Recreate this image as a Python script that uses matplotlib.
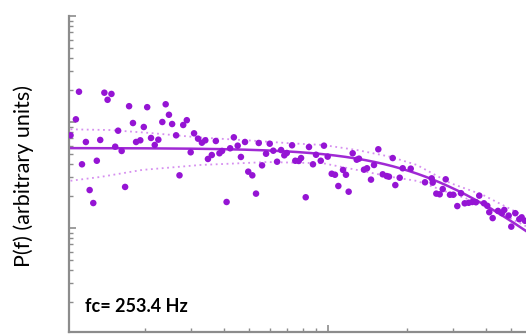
import matplotlib
matplotlib.use("Agg")
import matplotlib.pyplot as plt
import numpy as np

# measured power spectrum (Hz, arbitrary units)
freq = [10.4, 10.9, 11.2, 11.9, 11.5, 12.3, 12.7, 13.1, 13.5, 14.0,
        14.4, 14.9, 15.4, 15.8, 16.3, 16.8, 17.4, 18.0, 18.5, 19.2,
        19.8, 20.4, 21.1, 21.8, 22.5, 23.3, 24.0, 24.7, 25.4, 26.3,
        27.1, 28.0, 28.9, 29.9, 30.8, 31.9, 33.0, 34.0, 34.8, 36.0,
        37.3, 38.5, 39.4, 41.0, 42.3, 43.7, 45.2, 46.5, 48.2, 49.6,
        51.4, 53.1, 54.4, 56.0, 58.0, 59.9, 61.8, 63.9, 66.2, 68.1,
        69.6, 72.9, 75.0, 77.3, 78.9, 82.2, 84.6, 87.6, 90.0, 93.8,
        96.5, 99.7, 103.3, 106.3, 109.5, 114.1, 117.1, 119.9, 124.2, 128.7,
        131.3, 137.2, 140.9, 145.9, 149.8, 155.6, 161.7, 167.5, 170.9, 176.6,
        180.7, 187.8, 192.8, 206.9, 234.6, 248.8, 251.0, 259.1, 266.9, 274.1,
        281.4, 292.2, 300.8, 311.6, 321.9, 332.5, 344.3, 355.4, 367.1, 377.9,
        393.9, 405.5, 412.7, 425.2, 445.5, 461.4, 470.9, 489.5, 500.8, 518.7,
        537.3, 548.7, 564.8]
power = [7.49, 10.6, 19.3, 6.48, 3.99, 2.28, 1.72, 4.31, 6.77, 18.9,
         16.2, 18.4, 5.85, 8.28, 5.33, 2.44, 14.1, 9.78, 6.48, 6.72,
         8.97, 13.8, 7.07, 6.07, 6.81, 10.0, 14.7, 11.7, 9.57, 7.49,
         3.14, 9.37, 10.4, 5.18, 7.82, 6.96, 6.38, 6.72, 4.48, 4.88,
         6.62, 5.07, 5.33, 1.76, 5.65, 7.17, 5.98, 4.68, 6.48, 3.40,
         3.14, 2.11, 6.34, 3.90, 5.02, 6.24, 5.36, 4.22, 5.44, 4.85,
         5.10, 6.03, 4.31, 4.29, 4.57, 1.95, 5.81, 3.99, 4.91, 4.31,
         5.98, 4.71, 3.25, 3.18, 2.49, 3.53, 3.18, 2.20, 5.07, 4.41,
         4.51, 3.55, 3.66, 2.86, 3.93, 5.53, 3.21, 3.09, 3.05, 4.57,
         2.54, 2.98, 3.66, 3.63, 2.70, 2.94, 2.68, 2.11, 2.08, 2.33,
         2.88, 2.06, 2.06, 1.61, 2.13, 1.71, 1.73, 1.76, 1.75, 2.02,
         1.71, 1.62, 1.41, 1.24, 1.45, 1.38, 1.48, 1.31, 1.03, 1.38,
         1.21, 1.26, 1.17]

# confidence band of the fit
band_f = [10.4, 14.7, 20.9, 32.5, 50.4, 71.6, 95.7, 129.0, 172.4, 218.6,
          292.2, 390.5, 569.7]
band_hi = [8.53, 8.40, 7.88, 7.14, 6.69, 6.30, 6.07, 5.44, 4.71, 3.93,
           2.66, 2.05, 1.27]
band_lo_f = [10.4, 13.5, 19.5, 32.5, 58.5, 95.7, 129.0, 172.4, 218.6, 292.2,
             390.5, 569.7]
band_lo = [2.79, 3.03, 3.53, 3.93, 4.19, 4.08, 3.53, 3.05, 2.78, 2.14,
           1.68, 1.04]

# lorentzian fit
fc = 253.4
amp = 5.68

purple = '#9514d4'
grey = '#8c8c8c'

fig = plt.figure(figsize=(5.26, 3.34), dpi=100)
ax = fig.add_axes([0.1312, 0.0067, 0.8688, 0.9454])

ff = np.logspace(np.log10(10.26), np.log10(570), 300)
ax.plot(ff, amp / (1 + (ff / fc) ** 2), color='#a02ad4', lw=1.8, zorder=2)
ax.plot(band_f, band_hi, color='#d68ff0', lw=1.3, ls=(0, (1, 2)), zorder=1)
ax.plot(band_lo_f, band_lo, color='#d68ff0', lw=1.3, ls=(0, (1, 2)), zorder=1)
ax.scatter(freq, power, s=22, color=purple, edgecolors='none', zorder=3)

ax.set_xscale('log')
ax.set_yscale('log')
ax.set_xlim(10.26, 570)
ax.set_ylim(0.105, 100)

for side in ['top', 'right']:
    ax.spines[side].set_visible(False)
for side in ['left', 'bottom']:
    ax.spines[side].set_color(grey)
    ax.spines[side].set_linewidth(1.6)

ax.tick_params(which='both', direction='in', color=grey,
               labelleft=False, labelbottom=False)
ax.tick_params(which='major', length=5, width=1.2)
ax.tick_params(which='minor', length=3, width=1)

fig.text(0.046, 0.473, 'P(f) (arbitrary units)', rotation=90,
         ha='center', va='center', fontsize=15.5, family='Lato')
fig.text(0.162, 0.081, 'fc= 253.4 Hz', ha='left', va='center',
         fontsize=13, fontweight='bold', family='Lato')

fig.savefig('out.png', dpi=100)
